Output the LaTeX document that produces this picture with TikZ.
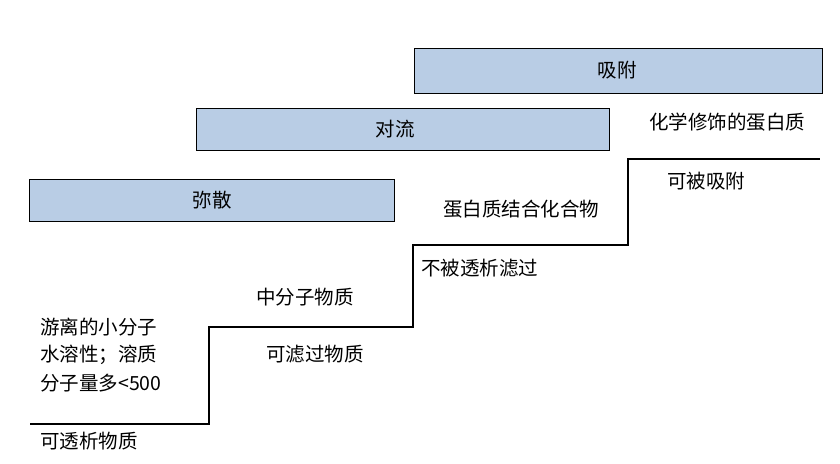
\documentclass[tikz,border=0pt]{standalone}
\usepackage{fontspec}
\setmainfont{Noto Sans CJK SC}
\begin{document}
\begin{tikzpicture}[x=1pt,y=-1pt,
  bluebox/.style={draw=black, line width=0.9pt, fill=boxblue, anchor=north west, inner sep=0pt},
  lbl/.style={font=\fontsize{19.5}{23}\selectfont, inner sep=0pt},
  stepline/.style={draw=black, line width=2.4pt},
  thinstep/.style={draw=black, line width=1.6pt}]
\definecolor{boxblue}{HTML}{B9CDE5}
\useasboundingbox[fill=white] (0,0) rectangle (840,463);
% boxes
\node[bluebox, minimum width=365pt, minimum height=42pt] (mi) at (29,179) {};
\node[lbl] (mit) at (212,200) {弥散};
\node[bluebox, minimum width=413pt, minimum height=42pt] (dl) at (196,108) {};
\node[lbl] (dlt) at (395,129) {对流};
\node[bluebox, minimum width=408pt, minimum height=45pt] (xf) at (414,48) {};
\node[lbl] (xft) at (617,70) {吸附};
% step line coordinates
\coordinate (p0) at (31,424);
\coordinate (p1) at (209,424);
\coordinate (p2) at (209,327);
\coordinate (p3) at (413,327);
\coordinate (p4) at (413,245);
\coordinate (p5) at (628,245);
\coordinate (p6) at (628,159);
\coordinate (p7) at (820,159);
\coordinate (q1) at (272,327);
\coordinate (q2) at (383,327);
\draw[stepline, line cap=rect] (p0) -- (p1) -- (p2) -- (q1);
\draw[thinstep] (q1) -- (p3) -- (p4) -- (p5) -- (p6) -- (p7);
\draw[stepline] (q1) -- (q2);
% labels
\node[lbl, anchor=west] (a1) at (40,327) {游离的小分子};
\node[lbl, anchor=west] (a2) at (40,355) {水溶性；溶质};
\node[lbl, anchor=west] (a3) at (40,383) {分子量多<500};
\node[lbl, anchor=west] (a4) at (40,441) {可透析物质};
\node[lbl] (b1) at (305,297) {中分子物质};
\node[lbl] (b2) at (315,354) {可滤过物质};
\node[lbl] (c1) at (521,209) {蛋白质结合化合物};
\node[lbl, anchor=west] (c2) at (421,268) {不被透析滤过};
\node[lbl] (d1) at (727,122) {化学修饰的蛋白质};
\node[lbl] (d2) at (706,181) {可被吸附};
\end{tikzpicture}
\end{document}
